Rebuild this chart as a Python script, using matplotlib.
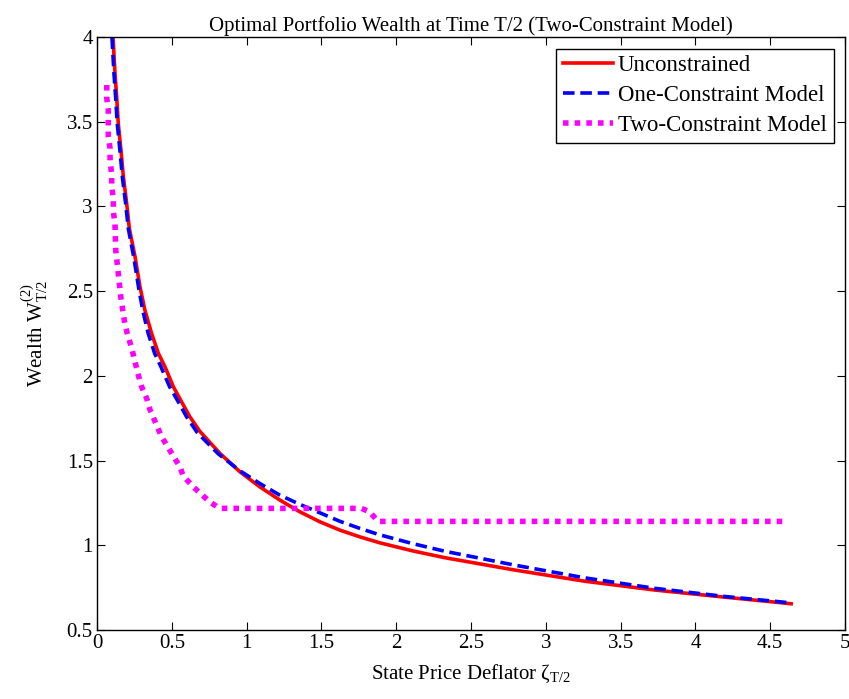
import matplotlib
matplotlib.use("Agg")
import matplotlib.pyplot as plt

plt.rcParams["font.family"] = ["Liberation Serif", "DejaVu Serif"]
plt.rcParams["mathtext.fontset"] = "custom"
plt.rcParams["mathtext.rm"] = "Liberation Serif"
plt.rcParams["mathtext.it"] = "Liberation Serif:italic"

# values
zeta_unc = [0.100, 0.109, 0.120, 0.131, 0.142, 0.160, 0.176, 0.198, 0.216, 0.254,
            0.287, 0.320, 0.365, 0.410, 0.454, 0.510, 0.565, 0.621, 0.688, 0.821,
            0.955, 1.088, 1.222, 1.355, 1.489, 1.622, 1.756, 1.889, 2.110, 2.324,
            2.792, 3.260, 3.728, 4.196, 4.640]
w_unc = [4.10, 3.963, 3.786, 3.648, 3.490, 3.330, 3.175, 3.018, 2.870, 2.703,
         2.526, 2.388, 2.250, 2.133, 2.054, 1.936, 1.847, 1.758, 1.672, 1.543,
         1.434, 1.345, 1.267, 1.198, 1.139, 1.090, 1.050, 1.015, 0.967, 0.927,
         0.854, 0.788, 0.736, 0.694, 0.655]

zeta_one = [0.094, 0.102, 0.113, 0.124, 0.135, 0.153, 0.169, 0.191, 0.209, 0.245,
            0.277, 0.305, 0.342, 0.385, 0.427, 0.485, 0.543, 0.599, 0.670, 0.810,
            0.955, 1.088, 1.222, 1.355, 1.489, 1.622, 1.756, 1.889, 2.110, 2.324,
            2.792, 3.260, 3.728, 4.196, 4.640]
w_one = [4.10, 3.963, 3.786, 3.648, 3.490, 3.330, 3.175, 3.018, 2.870, 2.703,
         2.526, 2.388, 2.250, 2.133, 2.054, 1.936, 1.847, 1.758, 1.665, 1.540,
         1.440, 1.365, 1.296, 1.242, 1.192, 1.142, 1.100, 1.062, 1.010, 0.965,
         0.883, 0.808, 0.746, 0.698, 0.660]

zeta_two = [0.065, 0.065, 0.075, 0.075, 0.075, 0.087, 0.087, 0.098, 0.098, 0.109,
            0.109, 0.120, 0.125, 0.142, 0.160, 0.187, 0.209, 0.232, 0.254, 0.276,
            0.298, 0.332, 0.354, 0.432, 0.554, 0.576, 0.643, 0.754, 0.820, 1.767,
            1.822, 1.878, 4.620]
w_two = [3.717, 3.640, 3.570, 3.490, 3.416, 3.343, 3.270, 3.190, 3.122, 3.040,
         2.970, 2.896, 2.743, 2.605, 2.457, 2.300, 2.230, 2.162, 2.083, 2.005,
         1.936, 1.867, 1.800, 1.640, 1.463, 1.410, 1.345, 1.256, 1.218, 1.218,
         1.198, 1.141, 1.141]

xticks = [0, 0.5, 1, 1.5, 2, 2.5, 3, 3.5, 4, 4.5, 5]
yticks = [0.5, 1, 1.5, 2, 2.5, 3, 3.5, 4]

fig = plt.figure(figsize=(8.49, 6.99), dpi=100)
ax = fig.add_axes([0.1143, 0.0987, 0.8810, 0.8483])

ax.plot(zeta_unc, w_unc, color="red", lw=2.6, label="Unconstrained")
ax.plot(zeta_one, w_one, color="blue", lw=2.6, ls=(0, (3.2, 1.6)), label="One-Constraint Model")
ax.plot(zeta_two, w_two, color="magenta", lw=4, ls=(0, (1, 1.1)),
        dash_capstyle="butt", label="Two-Constraint Model")

ax.set_xlim(0, 5)
ax.set_ylim(0.5, 4)
ax.set_xticks(xticks)
ax.set_yticks(yticks)
ax.set_xticklabels([f"{t:g}" for t in xticks])
ax.set_yticklabels([f"{t:g}" for t in yticks])
ax.tick_params(direction="in", top=True, right=True, length=6, labelsize=15, pad=3)
for s in ax.spines.values():
    s.set_linewidth(1)

ax.set_title("Optimal Portfolio Wealth at Time T/2 (Two-Constraint Model)", fontsize=15, pad=4)
ax.set_xlabel(r"State Price Deflator $\mathrm{\zeta}_{\mathrm{T/2}}$", fontsize=15, labelpad=7)
ax.set_ylabel(r"Wealth $\mathrm{W}^{(2)}_{\mathrm{T/2}}$", fontsize=15, labelpad=12)

leg = ax.legend(loc="upper right", fontsize=16.5, handlelength=2.2, handletextpad=0.2,
                borderpad=0.3, labelspacing=0.38, fancybox=False, framealpha=1,
                borderaxespad=0.5)
leg.get_frame().set_edgecolor("black")
leg.get_frame().set_linewidth(1)

fig.savefig("out.png", dpi=100)
